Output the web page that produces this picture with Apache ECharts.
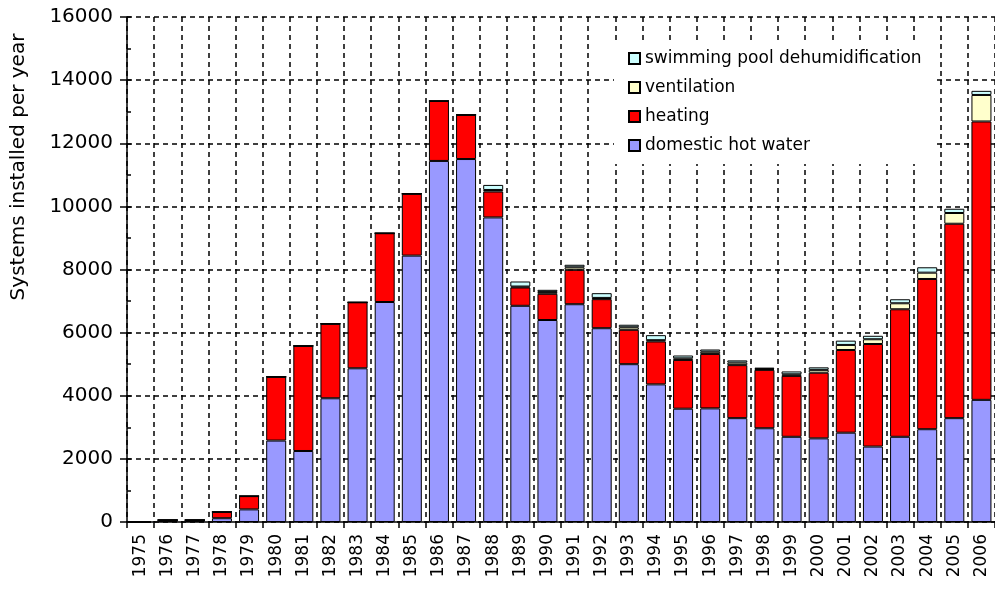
<!DOCTYPE html>
<html>
<head>
<meta charset="utf-8">
<script src="https://cdn.jsdelivr.net/npm/echarts@6/dist/echarts.min.js"></script>
<style>html,body{margin:0;padding:0;background:#fff;}#c{width:995px;height:591px;}</style>
</head>
<body>
<div id="c"></div>
<script>
var years = ['1975','1976','1977','1978','1979','1980','1981','1982','1983','1984','1985','1986','1987','1988','1989','1990','1991','1992','1993','1994','1995','1996','1997','1998','1999','2000','2001','2002','2003','2004','2005','2006'];
var domesticHotWater = [0,60,60,120,400,2580,2250,3920,4870,6970,8440,11440,11500,9650,6850,6400,6900,6140,5000,4360,3590,3600,3290,2970,2700,2650,2830,2390,2700,2940,3290,3870];
var heating = [0,0,0,200,420,2020,3330,2360,2090,2180,1960,1900,1400,820,580,830,1090,920,1090,1360,1545,1725,1680,1850,1930,2080,2620,3250,4040,4760,6160,8820];
var ventilation = [0,0,0,0,0,0,0,0,0,0,0,0,0,50,30,60,80,40,80,40,50,70,80,30,50,90,160,150,190,200,340,840];
var swimmingPool = [0,0,0,0,0,0,0,0,0,0,0,0,0,160,160,66,80,150,80,160,90,70,70,40,90,80,136,110,127,170,135,130];
var yTicks = [0,2000,4000,6000,8000,10000,12000,14000,16000];

var chart = echarts.init(document.getElementById('c'));
var font = 'DejaVu Sans';
var dash = {color:'#000', width:1.5, type:[5,4]};
function bar(name, data, color){
  return {name:name, type:'bar', stack:'total', data:data, barWidth:20,
    itemStyle:{color:color, borderColor:'#000', borderWidth:1}};
}
chart.setOption({
  animation:false,
  backgroundColor:'#fff',
  grid:{left:127, top:17, bottom:69, width:878},
  legend:{
    orient:'vertical', left:614, top:40, padding:[10,14,10,14],
    backgroundColor:'#fff', itemWidth:11, itemHeight:11, itemGap:12,
    icon:'rect',
    data:['swimming pool dehumidification','ventilation','heating','domestic hot water'],
    textStyle:{fontFamily:font, fontSize:17, color:'#000', lineHeight:17}
  },
  xAxis:{
    type:'category', data:years, boundaryGap:true,
    axisLine:{lineStyle:{color:'#000', width:1.5}},
    axisTick:{show:true, length:6, lineStyle:{color:'#000', width:1.5}},
    axisLabel:{rotate:90, interval:0, margin:12, fontFamily:font, fontSize:17, color:'#000'},
    splitLine:{show:true, interval:0, lineStyle:dash}
  },
  yAxis:[{
    type:'value', min:0, max:16000, interval:2000,
    axisLine:{show:true, lineStyle:{color:'#000', width:1.5}},
    axisTick:{show:true, length:7, lineStyle:{color:'#000', width:1.5}},
    axisLabel:{fontFamily:font, fontSize:20, color:'#000', margin:14,
      formatter:function(v){return yTicks.indexOf(v)>=0 ? String(v) : '';}},
    splitLine:{show:true, lineStyle:dash}
  },{
    type:'value', min:0, max:16000, interval:1000, position:'left',
    axisLine:{show:false},
    axisTick:{show:true, inside:true, length:4, lineStyle:{color:'#000', width:1.5}},
    axisLabel:{show:false}, splitLine:{show:false}
  }],
  graphic:[{
    type:'text', x:19, y:167, rotation:Math.PI/2,
    style:{text:'Systems installed per year', fontFamily:font, fontSize:20, fill:'#000',
      textAlign:'center', textVerticalAlign:'middle'}
  }],
  series:[
    bar('domestic hot water', domesticHotWater, '#9999FF'),
    bar('heating', heating, '#FF0000'),
    bar('ventilation', ventilation, '#FFFFCC'),
    bar('swimming pool dehumidification', swimmingPool, '#CCFFFF')
  ]
});
</script>
</body>
</html>
